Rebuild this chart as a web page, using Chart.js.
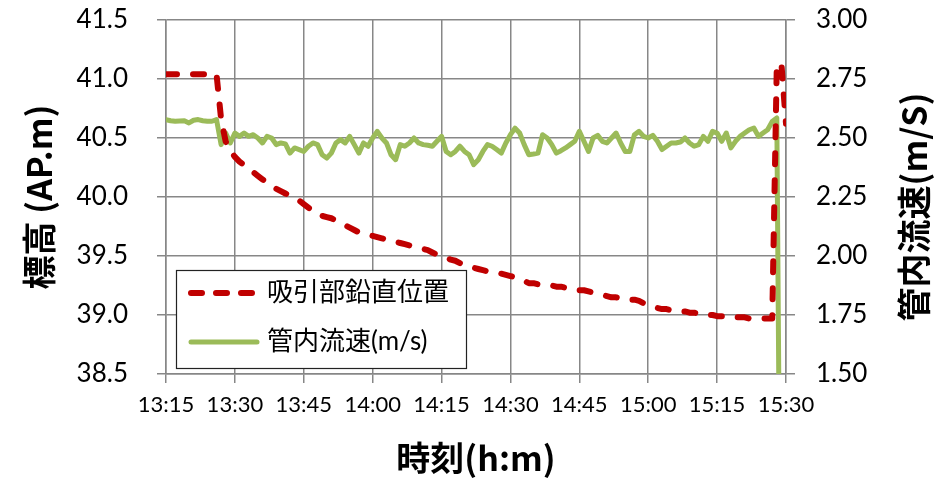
<!DOCTYPE html>
<html>
<head>
<meta charset="utf-8">
<script src="https://cdn.jsdelivr.net/npm/chart.js@4.4.1/dist/chart.umd.min.js"></script>
<style>
  html, body { margin: 0; padding: 0; background: #fff; }
  #wrap { width: 935px; height: 479px; }
</style>
</head>
<body>
<div id="wrap"><canvas id="chart" width="935" height="479"></canvas></div>
<script>
// x axis: minutes since 13:15, one reading per minute
const timeLabels = ["13:15", "13:30", "13:45", "14:00", "14:15", "14:30", "14:45", "15:00", "15:15", "15:30"];

// 吸引部鉛直位置 (AP.m)
const suctionLevel = [
  41.04, 41.04, 41.04, 41.04, 41.04, 41.04, 41.04, 41.04, 41.04, 41.04, 41.04, 41.04,
  40.66, 40.47, 40.39, 40.34, 40.30, 40.27, 40.24, 40.21, 40.18, 40.15,
  40.12, 40.10, 40.07, 40.05, 40.03, 40.01, 39.99, 39.97, 39.94, 39.91,
  39.88, 39.85, 39.84, 39.83, 39.82, 39.80, 39.78, 39.76, 39.74, 39.72,
  39.70, 39.69, 39.68, 39.67, 39.66, 39.65, 39.64, 39.63, 39.62, 39.61,
  39.60, 39.59, 39.58, 39.57, 39.56, 39.55, 39.53, 39.51, 39.49, 39.48,
  39.47, 39.46, 39.44, 39.43, 39.41, 39.40, 39.39, 39.38, 39.37, 39.36,
  39.35, 39.35, 39.34, 39.33, 39.32, 39.30, 39.29, 39.27, 39.27, 39.26,
  39.26, 39.25, 39.25, 39.24, 39.24, 39.23, 39.23, 39.22, 39.21, 39.21,
  39.20, 39.19, 39.18, 39.17, 39.16, 39.15, 39.15, 39.14, 39.14, 39.13,
  39.13, 39.12, 39.10, 39.08, 39.07, 39.06, 39.05, 39.05, 39.04, 39.04,
  39.03, 39.03, 39.02, 39.02, 39.01, 39.01, 39.00, 39.00, 38.99, 38.99,
  38.99, 38.98, 38.98, 38.98, 38.98, 38.97, 38.97, 38.97, 38.97, 38.97,
  38.97, 41.12, 41.13, 40.62
];

// 管内流速 (m/s)
const pipeVelocity = [
  2.578, 2.573, 2.571, 2.572, 2.573, 2.564, 2.575, 2.578, 2.573, 2.571, 2.571, 2.578,
  2.472, 2.521, 2.479, 2.521, 2.507, 2.521, 2.507, 2.514, 2.500, 2.479,
  2.507, 2.500, 2.472, 2.479, 2.475, 2.436, 2.458, 2.451, 2.443, 2.465,
  2.479, 2.472, 2.429, 2.415, 2.436, 2.479, 2.493, 2.479, 2.507, 2.472,
  2.436, 2.479, 2.465, 2.500, 2.528, 2.500, 2.479, 2.429, 2.408, 2.472,
  2.465, 2.479, 2.500, 2.479, 2.472, 2.469, 2.465, 2.486, 2.507, 2.443,
  2.429, 2.443, 2.465, 2.443, 2.429, 2.387, 2.408, 2.443, 2.472, 2.465,
  2.451, 2.436, 2.479, 2.514, 2.542, 2.521, 2.472, 2.429, 2.432, 2.436,
  2.514, 2.500, 2.472, 2.436, 2.446, 2.458, 2.472, 2.486, 2.528, 2.486,
  2.443, 2.500, 2.511, 2.486, 2.479, 2.500, 2.521, 2.479, 2.443, 2.443,
  2.514, 2.528, 2.507, 2.500, 2.511, 2.486, 2.451, 2.465, 2.479, 2.479,
  2.483, 2.500, 2.479, 2.465, 2.472, 2.507, 2.486, 2.528, 2.521, 2.486,
  2.521, 2.458, 2.486, 2.507, 2.521, 2.535, 2.542, 2.507, 2.521, 2.535,
  2.570, 2.585, 0.000
];

const GRID = "#878787";
const RED = "#C00000";
const GREEN = "#9BBB59";
const LATIN = "Lato, 'Noto Sans CJK JP', sans-serif";
const CJK = "'Noto Sans CJK JP', sans-serif";

Chart.defaults.font.family = LATIN;
Chart.defaults.color = "#000";

// vertical axes: fixed width, no extra top/bottom padding from tick labels
const fixWidth = (w) => (s) => {
  s.width = w;
  s.paddingTop = 0;
  s.paddingBottom = 0;
};

// legend box inside the plot, lower left
const boxLegend = {
  id: "boxLegend",
  afterDatasetsDraw(chart) {
    const ctx = chart.ctx;
    const a = chart.chartArea;
    const x = a.left + 10, y = a.bottom - 104, w = 290, h = 98;
    ctx.save();
    ctx.fillStyle = "#fff";
    ctx.fillRect(x, y, w, h);
    ctx.strokeStyle = "#222";
    ctx.lineWidth = 1.2;
    ctx.strokeRect(x + 0.5, y + 0.5, w, h);

    const rows = [y + 23, y + 72];
    chart.data.datasets.forEach((ds, i) => {
      const ly = rows[i];
      ctx.beginPath();
      ctx.strokeStyle = ds.borderColor;
      ctx.lineWidth = ds.borderWidth;
      ctx.lineCap = "round";
      ctx.setLineDash(ds.borderDash ? [11, 14] : []);
      ctx.moveTo(x + 15, ly);
      ctx.lineTo(x + (ds.borderDash ? 76 : 81), ly);
      ctx.stroke();
      ctx.setLineDash([]);
      ctx.fillStyle = "#000";
      ctx.font = "26px " + LATIN;
      ctx.textAlign = "left";
      ctx.textBaseline = "middle";
      ctx.fillText(ds.label, x + 91, ly);
    });
    ctx.restore();
  },
  afterDraw(chart) {
    // right axis title reads bottom to top
    const ctx = chart.ctx;
    const a = chart.chartArea;
    ctx.save();
    ctx.translate(914, (a.top + a.bottom) / 2 + 10);
    ctx.rotate(-Math.PI / 2);
    ctx.font = "bold 34px " + CJK;
    ctx.fillStyle = "#000";
    ctx.textAlign = "center";
    ctx.textBaseline = "middle";
    ctx.fillText("管内流速(m/S)", 0, 0);
    ctx.restore();
  }
};

new Chart(document.getElementById("chart"), {
  type: "line",
  data: {
    datasets: [
      {
        label: "吸引部鉛直位置",
        data: suctionLevel.map((v, i) => ({ x: i, y: v })),
        yAxisID: "y",
        borderColor: RED,
        borderWidth: 6,
        borderDash: [11, 16],
        borderCapStyle: "round",
        borderJoinStyle: "round",
        pointRadius: 0,
        tension: 0,
        fill: false,
      },
      {
        label: "管内流速(m/s)",
        data: pipeVelocity.map((v, i) => ({ x: i, y: v })),
        yAxisID: "y1",
        borderColor: GREEN,
        borderWidth: 5,
        borderCapStyle: "round",
        borderJoinStyle: "round",
        pointRadius: 0,
        tension: 0,
        fill: false,
      },
    ],
  },
  options: {
    responsive: false,
    animation: false,
    layout: { padding: { top: 20, left: 0, right: 0, bottom: 0 } },
    plugins: {
      legend: { display: false },
      tooltip: { enabled: false },
    },
    scales: {
      x: {
        type: "linear",
        min: 0,
        max: 135,
        afterFit: (s) => { s.height = 105; },
        ticks: {
          stepSize: 15,
          autoSkip: false,
          maxRotation: 0,
          padding: 9,
          font: { size: 22 },
          callback: (v) => timeLabels[Math.round(v / 15)],
        },
        grid: { color: GRID, lineWidth: 1.5, tickLength: 9 },
        border: { color: GRID, width: 1.5 },
        title: {
          display: true,
          text: "時刻(h:m)",
          font: { family: CJK, size: 34, weight: "bold" },
          padding: { top: 0, bottom: 1 },
        },
      },
      y: {
        position: "left",
        min: 38.5,
        max: 41.5,
        afterFit: fixWidth(166),
        ticks: {
          stepSize: 0.5,
          padding: 29,
          font: { size: 26 },
          callback: (v) => v.toFixed(1),
        },
        grid: { color: GRID, lineWidth: 1.5, tickLength: 9 },
        border: { color: GRID, width: 1.5 },
        title: {
          display: true,
          text: "標高 (AP.m)",
          font: { family: CJK, size: 34, weight: "bold" },
          padding: { top: 19, bottom: 0 },
        },
      },
      y1: {
        position: "right",
        min: 1.5,
        max: 3.0,
        afterFit: fixWidth(149),
        ticks: {
          stepSize: 0.25,
          padding: 21,
          font: { size: 26 },
          callback: (v) => v.toFixed(2),
        },
        grid: { drawOnChartArea: false, color: GRID, lineWidth: 1.5, tickLength: 9 },
        border: { color: GRID, width: 1.5 },
      },
    },
  },
  plugins: [boxLegend],
});
</script>
</body>
</html>
